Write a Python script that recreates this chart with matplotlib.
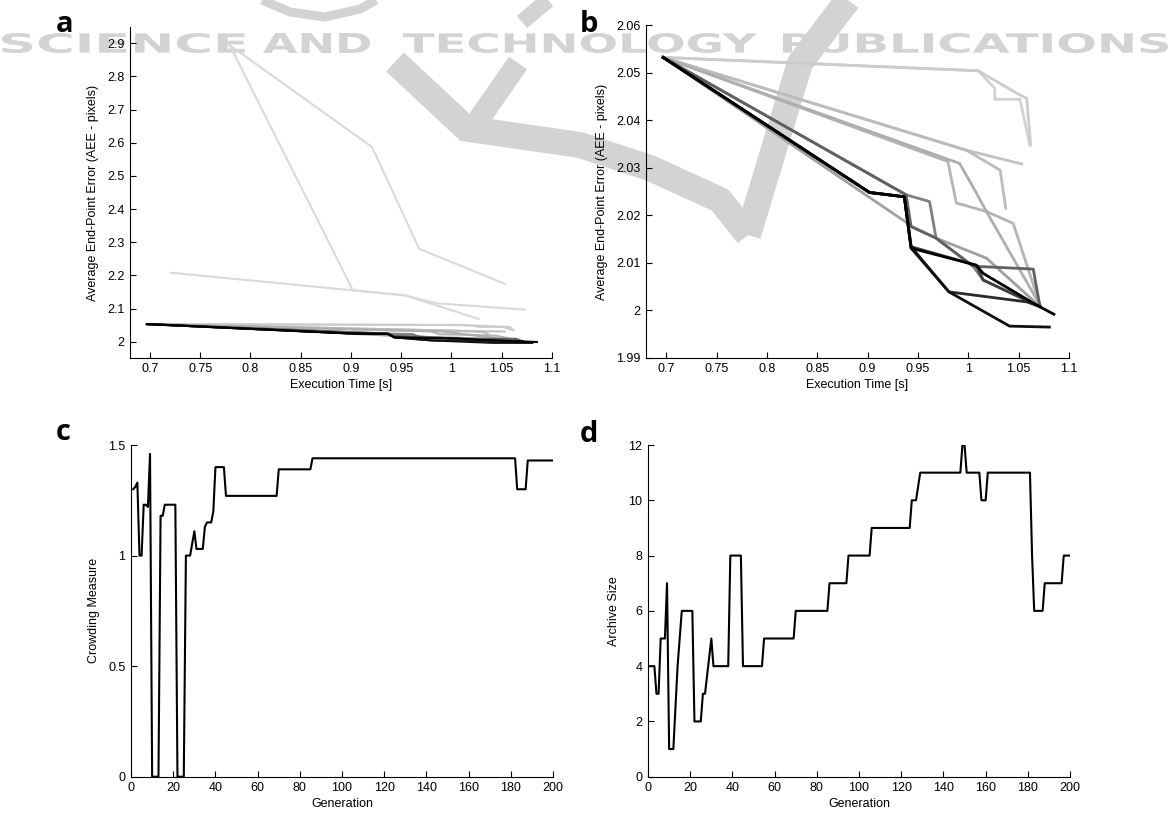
import numpy as np
import matplotlib
matplotlib.use("Agg")
from matplotlib import pyplot as plt
from matplotlib.ticker import FormatStrFormatter
from matplotlib.textpath import TextPath
from matplotlib.patches import PathPatch
from matplotlib.font_manager import FontProperties
from matplotlib.transforms import Affine2D
from matplotlib.lines import Line2D

plt.rcParams["font.family"] = ["Liberation Sans", "DejaVu Sans"]

# Pareto fronts (execution time [s], AEE), earliest generation first
front_x = [
    [0.7795, 0.921, 0.968, 1.053],
    [0.7795, 0.902, 0.9536, 1.027],
    [0.721, 0.902, 0.9536, 0.985, 1.073],
    [0.697, 1.0097, 1.0263, 1.0263, 1.0513, 1.0610],
    [0.697, 1.0097, 1.0496, 1.0580, 1.0619],
    [0.697, 0.998, 1.0529],
    [0.697, 0.998, 1.0316, 1.0372],
    [0.697, 0.9797, 0.9881, 1.018, 1.0446, 1.0712],
    [0.697, 0.9914, 1.0064, 1.018, 1.0712],
    [0.697, 0.9448, 0.968, 1.018, 1.0712],
    [0.697, 0.9383, 0.9615, 0.968, 1.0047, 1.0147, 1.0679],
    [0.697, 0.9383, 0.9432, 0.968, 1.0047, 1.0645, 1.0712],
    [0.697, 0.9019, 0.9365, 0.9432, 1.008, 1.0147, 1.068],
    [0.697, 0.9019, 0.9365, 0.9432, 0.9808, 1.058, 1.0712],
    [0.697, 0.9019, 0.9365, 0.9432, 0.9808, 1.041, 1.0805],
    [0.697, 0.9019, 0.9365, 0.9432, 1.008, 1.0147, 1.068, 1.085],
]
front_y = [
    [2.894, 2.587, 2.280, 2.175],
    [2.894, 2.155, 2.140, 2.069],
    [2.208, 2.155, 2.140, 2.116, 2.097],
    [2.0532, 2.0504, 2.0467, 2.0444, 2.0444, 2.0348],
    [2.0532, 2.0504, 2.0455, 2.0446, 2.0348],
    [2.0532, 2.0337, 2.0308],
    [2.0532, 2.0337, 2.0295, 2.0215],
    [2.0532, 2.0313, 2.0226, 2.0208, 2.0183, 2.0011],
    [2.0532, 2.0309, 2.0253, 2.0208, 2.0011],
    [2.0532, 2.0176, 2.0152, 2.0110, 2.0008],
    [2.0532, 2.0243, 2.0229, 2.0152, 2.0093, 2.0064, 2.0011],
    [2.0532, 2.0243, 2.0176, 2.0152, 2.0093, 2.0087, 2.0008],
    [2.0532, 2.0248, 2.0239, 2.0134, 2.0095, 2.0064, 2.0011],
    [2.0532, 2.0248, 2.0239, 2.0134, 2.0039, 2.0018, 2.0008],
    [2.0532, 2.0248, 2.0239, 2.0131, 2.0039, 1.9967, 1.9965],
    [2.0532, 2.0248, 2.0239, 2.0131, 2.0095, 2.0078, 2.0011, 1.9992],
]

# crowding measure per generation (breakpoints)
crowd_gen = [1, 2, 3, 4, 5, 6, 7, 8, 9, 10, 13, 14, 15, 16, 21, 22, 25, 26, 28,
             30, 31, 34, 35, 36, 38, 39, 40, 44, 45, 69, 70, 85, 86, 182, 183,
             187, 188, 200]
crowd_val = [1.30, 1.31, 1.33, 1.00, 1.00, 1.23, 1.23, 1.22, 1.46, 0.0, 0.0,
             1.18, 1.18, 1.23, 1.23, 0.0, 0.0, 1.00, 1.00, 1.11, 1.03, 1.03,
             1.13, 1.15, 1.15, 1.20, 1.40, 1.40, 1.27, 1.27, 1.39, 1.39, 1.44,
             1.44, 1.30, 1.30, 1.43, 1.43]

# archive size per generation (breakpoints)
arch_gen = [1, 3, 4, 5, 6, 8, 9, 10, 12, 14, 16, 21, 22, 25, 26, 27, 30, 31,
            38, 39, 44, 45, 54, 55, 69, 70, 85, 86, 94, 95, 105, 106, 124, 125,
            127, 129, 148, 149, 150, 151, 157, 158, 160, 161, 181, 182, 183,
            187, 188, 196, 197, 200]
arch_val = [4, 4, 3, 3, 5, 5, 7, 1, 1, 4, 6, 6, 2, 2, 3, 3, 5, 4,
            4, 8, 8, 4, 4, 5, 5, 6, 6, 7, 7, 8, 8, 9, 9, 10,
            10, 11, 11, 12, 12, 11, 11, 10, 10, 11, 11, 8, 6,
            6, 7, 7, 8, 8]

a_xticks = [0.7, 0.75, 0.8, 0.85, 0.9, 0.95, 1.0, 1.05, 1.1]
a_yticks = [2.0, 2.1, 2.2, 2.3, 2.4, 2.5, 2.6, 2.7, 2.8, 2.9]
b_yticks = [1.99, 2.0, 2.01, 2.02, 2.03, 2.04, 2.05, 2.06]
gen_ticks = [0, 20, 40, 60, 80, 100, 120, 140, 160, 180, 200]
c_yticks = [0, 0.5, 1, 1.5]
d_yticks = [0, 2, 4, 6, 8, 10, 12]

front_colors = ["#dadada", "#dadada", "#dadada", "#d2d2d2", "#cccccc",
                "#c2c2c2", "#bcbcbc", "#b4b4b4", "#aeaeae", "#a0a0a0",
                "#808080", "#606060", "#404040", "#2a2a2a", "#101010",
                "#000000"]

W, H = 1171, 814
fig = plt.figure(figsize=(W / 100, H / 100), dpi=100)
WM = "#d3d3d3"


# background watermark (text + swoosh), positions in image pixels
def wm_word(word, x0, x1, ytop, ybot):
    tp = TextPath((0, 0), word, size=1,
                  prop=FontProperties(family="DejaVu Sans", weight="bold"))
    ext = tp.get_extents()
    sx = (x1 - x0) / ext.width / W
    sy = (ybot - ytop) / ext.height / H
    tx = x0 / W - ext.x0 * sx
    ty = 1 - ybot / H - ext.y0 * sy
    tr = Affine2D().scale(sx, sy).translate(tx, ty) + fig.transFigure
    fig.add_artist(PathPatch(tp, transform=tr, color=WM, lw=0, zorder=-2))


def wm_band(pts, width):
    xs = [p[0] / W for p in pts]
    ys = [1 - p[1] / H for p in pts]
    fig.add_artist(Line2D(xs, ys, transform=fig.transFigure, color=WM,
                          lw=width * 0.72, solid_capstyle="butt",
                          solid_joinstyle="round", zorder=-3))


wm_band([(262, 0), (290, 12), (325, 17), (360, 9), (376, 0)], 9)
wm_band([(548, 0), (522, 22)], 16)
wm_band([(395, 62), (470, 132)], 26)
wm_band([(518, 63), (470, 132)], 22)
wm_band([(462, 128), (580, 145), (650, 168), (720, 200), (748, 235)], 26)
wm_band([(748, 235), (800, 63), (848, 0)], 26)
wm_word("SCIENCE", 2, 245, 33, 53)
wm_word("AND", 263, 370, 33, 53)
wm_word("TECHNOLOGY", 403, 757, 33, 53)
wm_word("PUBLICATIONS", 783, 1168, 33, 53)

ax_a = fig.add_axes([0.1109, 0.5598, 0.3604, 0.4074])
ax_b = fig.add_axes([0.5517, 0.5602, 0.3612, 0.4090])
ax_c = fig.add_axes([0.1119, 0.0458, 0.3604, 0.4075])
ax_d = fig.add_axes([0.5534, 0.0458, 0.3604, 0.4075])


def matlab_style(ax):
    ax.set_facecolor("none")
    ax.spines["top"].set_visible(False)
    ax.spines["right"].set_visible(False)
    ax.spines["left"].set_linewidth(0.8)
    ax.spines["bottom"].set_linewidth(0.8)
    ax.tick_params(direction="in", length=4, width=0.8, labelsize=9)
    ax.tick_params(axis="x", pad=3.5)
    ax.tick_params(axis="y", pad=4)
    ax.xaxis.set_major_formatter(FormatStrFormatter("%g"))
    ax.yaxis.set_major_formatter(FormatStrFormatter("%g"))


for ax, lw in ((ax_a, 1.5), (ax_b, 2.0)):
    for xs, ys, col in zip(front_x, front_y, front_colors):
        ax.plot(xs, ys, color=col, lw=lw)
    matlab_style(ax)
    ax.set_xlim(0.68, 1.1)
    ax.set_xticks(a_xticks)
    ax.set_xlabel("Execution Time [s]", fontsize=9, labelpad=3)
    ax.set_ylabel("Average End-Point Error (AEE - pixels)", fontsize=9,
                  labelpad=6)

ax_a.set_ylim(1.95, 2.95)
ax_a.set_yticks(a_yticks)
ax_b.set_ylim(1.99, 2.06)
ax_b.set_yticks(b_yticks)

ax_c.plot(crowd_gen, crowd_val, color="black", lw=1.5)
matlab_style(ax_c)
ax_c.set_xlim(0, 200)
ax_c.set_ylim(0, 1.5)
ax_c.set_xticks(gen_ticks)
ax_c.set_yticks(c_yticks)
ax_c.set_xlabel("Generation", fontsize=9, labelpad=3)
ax_c.set_ylabel("Crowding Measure", fontsize=9, labelpad=6)

ax_d.plot(arch_gen, arch_val, color="black", lw=1.5)
matlab_style(ax_d)
ax_d.set_xlim(0, 200)
ax_d.set_ylim(0, 12)
ax_d.set_xticks(gen_ticks)
ax_d.set_yticks(d_yticks)
ax_d.set_xlabel("Generation", fontsize=9, labelpad=3)
ax_d.set_ylabel("Archive Size", fontsize=9, labelpad=6)

# panel letters
for letter, px, py in [("a", 56, 32), ("b", 580, 32), ("c", 56, 440), ("d", 580, 442)]:
    fig.text(px / W, 1 - py / H, letter, family=["Open Sans", "DejaVu Sans"],
             fontweight="bold", fontsize=21, ha="left", va="baseline")

fig.savefig("out.png", dpi=100)
